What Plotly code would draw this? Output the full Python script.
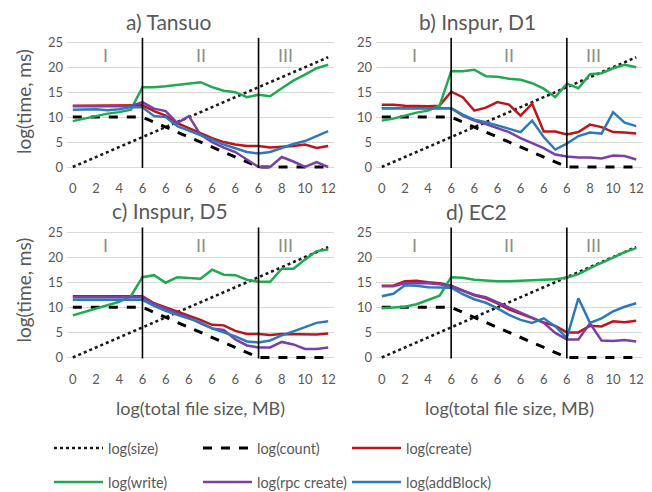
import plotly.graph_objects as go

# ---------------- data ----------------
tick_labels = ["0", "2", "4", "6", "6", "6", "6", "6", "6", "8", "10", "12"]
tick_positions = [0, 2, 4, 6, 8, 10, 12, 14, 16, 18, 20, 22]
points = [0, 1, 2, 3, 4, 5, 6, 7, 8, 9, 10, 11, 12, 13, 14, 15, 16, 17, 18, 19, 20, 21, 22]
phase_bounds = [6, 16]
phase_names = ["I", "II", "III"]
phase_label_x = [2.8, 11.0, 18.3]

size = [0, 1, 2, 3, 4, 5, 6, 7, 8, 9, 10, 11, 12, 13, 14, 15, 16, 17, 18, 19, 20, 21, 22]
count = [10, 10, 10, 10, 10, 10, 10, 9, 8, 7, 6, 5, 4, 3, 2, 1, 0, 0, 0, 0, 0, 0, 0]

# a) Tansuo
create_a = [12.3, 12.3, 12.3, 12.3, 12.3, 12.3, 12.4, 11.2, 10.3, 8.8, 7.8, 6.9, 5.8, 5.0, 4.5, 4.2, 4.2, 3.9, 4.0, 4.2, 4.5, 3.8, 4.2]
write_a = [9.2, 9.7, 10.2, 10.7, 11.0, 11.5, 16.0, 16.0, 16.2, 16.5, 16.8, 17.0, 16.0, 15.3, 15.0, 14.0, 14.5, 14.2, 15.8, 17.3, 18.5, 19.8, 20.5]
rpc_a = [12.2, 12.2, 12.2, 12.2, 12.2, 12.2, 13.0, 11.7, 11.2, 8.8, 10.2, 6.5, 5.0, 3.9, 3.0, 1.5, 0.0, 0.0, 2.0, 1.1, 0.0, 1.0, 0.0]
addblock_a = [11.5, 11.6, 11.6, 11.4, 11.6, 12.0, 12.0, 10.2, 10.0, 8.2, 7.3, 6.5, 5.5, 4.5, 3.8, 3.0, 2.7, 3.0, 3.8, 4.6, 5.2, 6.2, 7.2]

# b) Inspur, D1
create_b = [12.5, 12.5, 12.3, 12.2, 12.2, 12.3, 15.1, 14.0, 11.3, 11.9, 13.0, 12.5, 10.3, 12.7, 7.1, 7.1, 6.5, 7.0, 8.5, 8.0, 7.0, 6.9, 6.7]
write_b = [9.3, 9.7, 10.3, 10.9, 11.3, 12.3, 19.2, 19.2, 19.5, 18.2, 18.1, 17.7, 17.5, 16.8, 15.7, 14.0, 16.7, 15.8, 18.6, 18.8, 19.8, 20.5, 20.0]
rpc_b = [11.8, 11.8, 11.8, 11.8, 11.8, 11.8, 11.8, 10.3, 9.3, 8.6, 7.8, 7.0, 5.8, 4.8, 3.8, 2.5, 2.1, 1.9, 1.9, 1.7, 2.3, 2.2, 1.5]
addblock_b = [11.8, 11.8, 11.8, 11.8, 11.8, 11.8, 11.8, 10.5, 9.5, 9.0, 8.3, 7.6, 7.0, 9.3, 6.0, 3.5, 4.7, 6.2, 6.9, 6.7, 11.0, 8.9, 8.2]

# c) Inspur, D5
create_c = [12.2, 12.2, 12.2, 12.2, 12.2, 12.2, 12.2, 10.8, 10.0, 9.2, 8.4, 7.5, 6.5, 6.4, 5.3, 4.7, 4.7, 4.5, 4.7, 4.7, 4.6, 4.6, 4.8]
write_c = [8.4, 9.1, 9.7, 10.4, 11.1, 12.2, 16.0, 16.4, 14.9, 16.0, 15.9, 15.7, 17.5, 16.5, 16.4, 15.5, 15.1, 15.1, 17.7, 17.7, 19.5, 21.2, 21.5]
rpc_c = [12.0, 12.0, 12.0, 12.0, 12.0, 12.0, 12.0, 10.7, 9.7, 8.8, 8.0, 6.8, 5.8, 5.5, 3.6, 2.4, 2.0, 2.0, 3.1, 2.6, 1.7, 1.7, 2.0]
addblock_c = [11.5, 11.5, 11.5, 11.5, 11.5, 11.5, 11.5, 10.3, 9.3, 8.5, 7.8, 7.0, 5.8, 5.0, 4.2, 3.2, 3.0, 3.4, 4.4, 5.2, 6.1, 6.9, 7.2]

# d) EC2
create_d = [14.3, 14.3, 15.2, 15.3, 15.0, 14.8, 14.3, 13.4, 12.4, 11.8, 10.8, 9.6, 8.7, 7.8, 7.0, 6.3, 5.0, 5.0, 6.3, 6.2, 7.2, 7.0, 7.3]
write_d = [9.8, 10.0, 10.1, 10.6, 11.5, 12.3, 16.0, 15.9, 15.5, 15.3, 15.2, 15.2, 15.3, 15.3, 15.4, 15.6, 15.9, 16.6, 17.8, 18.8, 19.9, 21.0, 21.8]
rpc_d = [14.2, 14.2, 14.8, 14.8, 14.8, 14.6, 14.2, 13.3, 12.5, 12.0, 11.0, 10.0, 9.0, 8.0, 6.9, 4.9, 3.6, 3.6, 6.8, 3.4, 3.3, 3.5, 3.2]
addblock_d = [12.2, 12.7, 14.4, 14.3, 14.0, 14.0, 13.9, 12.6, 11.6, 10.9, 9.8, 8.5, 7.5, 6.9, 7.8, 6.2, 3.9, 11.8, 6.9, 7.8, 9.2, 10.1, 10.8]

panel_titles = ["a) Tansuo", "b) Inspur, D1", "c) Inspur, D5", "d) EC2"]
series_names = ["log(size)", "log(count)", "log(create)", "log(write)", "log(rpc create)", "log(addBlock)"]
x_title = "log(total file size, MB)"
y_title = "log(time, ms)"

panels = [
    (create_a, write_a, rpc_a, addblock_a),
    (create_b, write_b, rpc_b, addblock_b),
    (create_c, write_c, rpc_c, addblock_c),
    (create_d, write_d, rpc_d, addblock_d),
]

# ---------------- styling ----------------
FONT = "Lato"
TXT = "#595959"
styles = [
    dict(color="#1a1a1a", width=2.6, dash="dot"),
    dict(color="#000000", width=3, dash="dash"),
    dict(color="#C0141C", width=2.5),
    dict(color="#1FAA52", width=2.5),
    dict(color="#7A3FA8", width=2.5),
    dict(color="#2B7BBA", width=2.5),
]
legend_of = ["legend", "legend", "legend", "legend2", "legend2", "legend2"]

# the page body has an 8px default margin; the figure is sized to fit the window
OFF = 8
W, H = 652 - OFF, 492 - OFF


def xp(px):
    return (px - OFF) / W


def yp(py):
    return (H - (py - OFF)) / H


x_dom = [[xp(67), xp(334)], [xp(376), xp(642)]]
y_dom = [[yp(169.0), yp(37.3)], [yp(359.5), yp(227.0)]]

fig = go.Figure()
for p, (cr, wr, rp, ab) in enumerate(panels):
    sfx = "" if p == 0 else str(p + 1)
    series = [size, count, cr, wr, rp, ab]
    for k, ys in enumerate(series):
        fig.add_trace(go.Scatter(
            x=points, y=ys, mode="lines", name=series_names[k],
            line=styles[k], xaxis="x" + sfx, yaxis="y" + sfx,
            showlegend=(p == 0), legend=legend_of[k],
        ))

layout = dict(
    width=W, height=H, margin=dict(l=0, r=0, t=0, b=0, autoexpand=False),
    paper_bgcolor="white", plot_bgcolor="white",
    font=dict(family=FONT, color=TXT, size=13),
)
annotations = []
shapes = []
for p in range(4):
    r, c = divmod(p, 2)
    sfx = "" if p == 0 else str(p + 1)
    layout["xaxis" + sfx] = dict(
        domain=x_dom[c], anchor="y" + sfx, range=[-0.5, 22.5],
        tickvals=tick_positions, ticktext=tick_labels, showgrid=False,
        zeroline=False, showline=False, ticks="", ticklabelstandoff=10,
        tickfont=dict(size=13, color=TXT),
    )
    layout["yaxis" + sfx] = dict(
        domain=y_dom[r], anchor="x" + sfx, range=[-0.4, 26.0],
        tickvals=[0, 5, 10, 15, 20, 25], showgrid=True, gridcolor="#d9d9d9",
        gridwidth=1, zeroline=False, showline=False, ticks="", ticklabelstandoff=3,
        tickfont=dict(size=13, color=TXT),
    )
    for xb in phase_bounds:
        shapes.append(dict(type="line", xref="x" + sfx, yref="y" + sfx,
                           x0=xb, x1=xb, y0=-0.2, y1=25.9,
                           line=dict(color="black", width=1.6)))
    for nm, xpos in zip(phase_names, phase_label_x):
        annotations.append(dict(xref="x" + sfx, yref="y" + sfx, x=xpos, y=22.4,
                                text=nm, showarrow=False,
                                font=dict(size=18, color="#8f8f86", family=FONT)))

title_pos = [(168, 21.7), (477, 21.7), (170, 210.5), (476, 211.5)]
for t, (px, py) in zip(panel_titles, title_pos):
    annotations.append(dict(xref="paper", yref="paper", x=xp(px), y=yp(py),
                            text=t, showarrow=False, xanchor="center", yanchor="middle",
                            font=dict(size=21, color=TXT, family=FONT)))
for py in (102, 290.5):
    annotations.append(dict(xref="paper", yref="paper", x=xp(23), y=yp(py),
                            text=y_title, textangle=-90, showarrow=False,
                            xanchor="center", yanchor="middle",
                            font=dict(size=19, color=TXT, family=FONT)))
for px in (200, 509):
    annotations.append(dict(xref="paper", yref="paper", x=xp(px), y=yp(408),
                            text=x_title, showarrow=False,
                            xanchor="center", yanchor="middle",
                            font=dict(size=18, color=TXT, family=FONT)))

layout["annotations"] = annotations
layout["shapes"] = shapes
legend_common = dict(orientation="h", xanchor="left", yanchor="middle",
                     font=dict(size=14.5, color=TXT, family=FONT),
                     bgcolor="rgba(0,0,0,0)", entrywidth=85, entrywidthmode="pixels",
                     itemwidth=49, tracegroupgap=0)
layout["legend"] = dict(x=xp(49), y=yp(448), **legend_common)
layout["legend2"] = dict(x=xp(49), y=yp(482), **legend_common)
fig.update_layout(**layout)

fig.write_html("out.html")
